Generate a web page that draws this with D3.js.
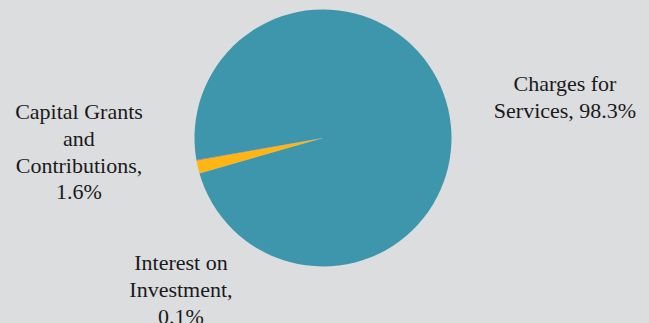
<!DOCTYPE html>
<html>
<head>
<meta charset="utf-8">
<script src="https://cdn.jsdelivr.net/npm/d3@7"></script>
<style>
  html, body { margin: 0; padding: 0; background: #dcdddf; }
  svg { display: block; }
</style>
</head>
<body>
<svg id="chart" width="649" height="323"></svg>
<script>
const categories = ["Capital Grants and Contributions", "Interest on Investment", "Charges for Services"];
const shares = [1.6, 0.1, 98.3];
const labelLines = [
    ["Capital Grants", "and", "Contributions,", "1.6%"],
    ["Interest on", "Investment,", "0.1%"],
    ["Charges for", "Services, 98.3%"]
];

const width = 649, height = 323;
const cx = 323, cy = 138, radius = 128.5;
const colors = ["#ffb612", "#e8674d", "#3e96ac"];
// where each label block sits (centre x, first baseline)
const labelPos = [[79, 119], [181, 270], [565, 91]];
const lineGap = 26.8;

const svg = d3.select("#chart");

const data = categories.map((c, i) => ({ category: c, share: shares[i], lines: labelLines[i] }));

const pie = d3.pie()
    .sort(null)
    .value(d => d.share)
    .startAngle(254 * Math.PI / 180)
    .endAngle((254 + 360) * Math.PI / 180);

const arc = d3.arc().innerRadius(0).outerRadius(radius);

const g = svg.append("g").attr("transform", `translate(${cx},${cy})`);

g.selectAll("path")
    .data(pie(data))
    .enter().append("path")
    .attr("d", arc)
    .attr("fill", (d, i) => colors[i]);

const labels = svg.selectAll("text.label")
    .data(data)
    .enter().append("text")
    .attr("class", "label")
    .style("font-family", "'Liberation Serif', 'Times New Roman', serif")
    .attr("font-size", 22)
    .attr("fill", "#1a1a1a")
    .attr("text-anchor", "middle")
    .attr("x", (d, i) => labelPos[i][0])
    .attr("y", (d, i) => labelPos[i][1]);

labels.selectAll("tspan")
    .data((d, i) => d.lines.map(l => ({ text: l, x: labelPos[i][0] })))
    .enter().append("tspan")
    .attr("x", d => d.x)
    .attr("dy", (d, j) => j === 0 ? 0 : lineGap)
    .text(d => d.text);
</script>
</body>
</html>
